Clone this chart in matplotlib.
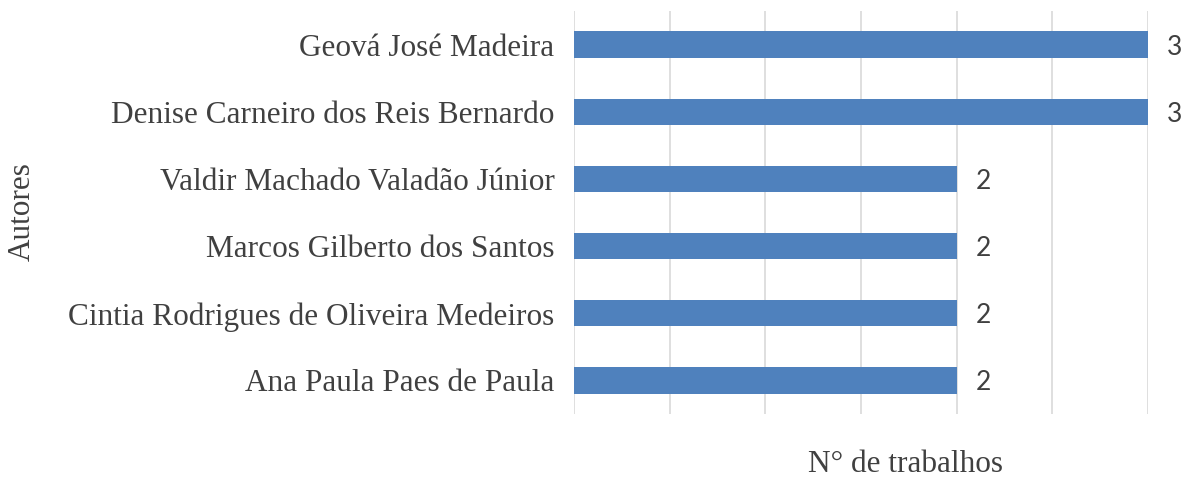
import matplotlib
matplotlib.use("Agg")
from matplotlib import pyplot as plt

# dados
autores = ['Ana Paula Paes de Paula',
           'Cintia Rodrigues de Oliveira Medeiros',
           'Marcos Gilberto dos Santos',
           'Valdir Machado Valadão Júnior',
           'Denise Carneiro dos Reis Bernardo',
           'Geová José Madeira']
trabalhos = [2, 2, 2, 2, 3, 3]

plt.rcParams['font.family'] = ['Liberation Serif', 'DejaVu Serif']
tam = 22.5

fig = plt.figure(figsize=(11.9, 4.79), dpi=100)
ax = fig.add_axes([574 / 1190, 1 - 414 / 479, (1148 - 574) / 1190, (414 - 11) / 479])

ypos = range(len(autores))
ax.barh(ypos, trabalhos, height=0.39, color='#4f81bd', zorder=3)
for y, v in zip(ypos, trabalhos):
    ax.text(v + 0.1, y, str(v), va='center_baseline', ha='left', fontsize=19,
            family=['Lato', 'DejaVu Sans'], color='#404040', clip_on=False)

ax.set_xlim(0, 3)
ax.set_ylim(-0.5, 5.5)
ax.set_xticks([0, 0.5, 1, 1.5, 2, 2.5, 3])
ax.set_xticklabels([])
ax.set_yticks(list(ypos))
ax.set_yticklabels(autores, fontsize=tam, color='#404040')
ax.tick_params(axis='both', length=0)
ax.tick_params(axis='y', pad=14)
ax.grid(axis='x', color='#d9d9d9', linewidth=1.2, zorder=0)
for s in ax.spines.values():
    s.set_visible(False)

fig.text(905 / 1190, 1 - 465 / 479, 'N° de trabalhos', ha='center', va='center',
         fontsize=tam, color='#404040')
fig.text(22 / 1190, 1 - 212 / 479, 'Autores', ha='center', va='center',
         rotation=90, fontsize=tam, color='#404040')

fig.savefig('out.png', dpi=100)
